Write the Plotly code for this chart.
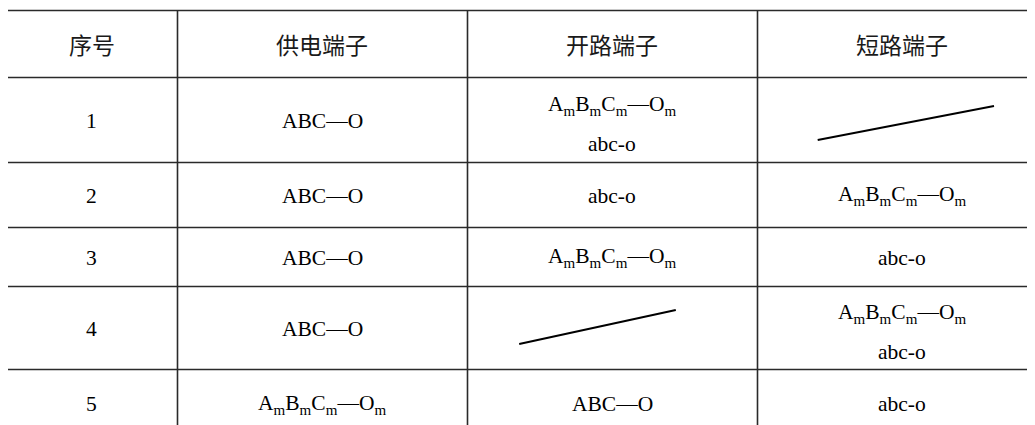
import plotly.graph_objects as go

# ---------------- data ----------------
headers = ["序号", "供电端子", "开路端子", "短路端子"]
AMO = "A<sub>m</sub>B<sub>m</sub>C<sub>m</sub>—O<sub>m</sub>"
col_index = ["1", "2", "3", "4", "5"]
col_supply = ["ABC—O", "ABC—O", "ABC—O", "ABC—O", AMO]
col_open = [[AMO, "abc-o"], "abc-o", AMO, None, "ABC—O"]
col_short = [None, AMO, "abc-o", [AMO, "abc-o"], "abc-o"]

# ---------------- layout constants ----------------
W, H = 1035, 425
OFF = 8                              # default page body margin
col_edges = [6, 177, 467, 757, 1046]
row_edges = [10, 77, 162, 227, 286, 369, 437]
line_offsets = [-14.5, 24]           # two-line cells: offsets from cell centre
# slash (empty cell) endpoints, as fractions of the cell box: (x0, y0, x1, y1), y from top
slash_frac = {(0, 3): (0.21, 0.74, 0.82, 0.34),
              (3, 2): (0.18, 0.70, 0.72, 0.29)}
LATIN = "Liberation Serif, Times New Roman, serif"
CJK = "Noto Sans CJK SC, sans-serif"
LINE_COLOR = "#2a2a2a"
LATIN_SIZE = 21.5
CJK_SIZE = 23

fig = go.Figure()
fig.add_trace(go.Scatter(x=[OFF, W], y=[OFF, H], mode="markers",
                         marker=dict(opacity=0), hoverinfo="skip", showlegend=False))

shapes = []
annotations = []


def px(v):
    return round(v) + 0.5


# horizontal borders (no bottom border visible)
for y in row_edges[:-1]:
    shapes.append(dict(type="line", xref="x", yref="y", x0=col_edges[0], x1=W + 5,
                       y0=px(y), y1=px(y), line=dict(color=LINE_COLOR, width=1.3)))
# vertical borders
for x in col_edges:
    shapes.append(dict(type="line", xref="x", yref="y", x0=px(x), x1=px(x),
                       y0=row_edges[0], y1=H + 5, line=dict(color=LINE_COLOR, width=1.6)))

# header
for j, h in enumerate(headers):
    cx = (col_edges[j] + col_edges[j + 1]) / 2
    cy = (row_edges[0] + row_edges[1]) / 2
    annotations.append(dict(x=cx, y=cy, xref="x", yref="y", text=h, showarrow=False,
                            xanchor="center", yanchor="middle",
                            font=dict(family=CJK, size=CJK_SIZE, color="#1a1a1a")))

columns = [col_index, col_supply, col_open, col_short]
for i in range(len(col_index)):
    top, bot = row_edges[i + 1], row_edges[i + 2]
    cy = (top + bot) / 2
    for j, col in enumerate(columns):
        left, right = col_edges[j], col_edges[j + 1]
        cx = (left + right) / 2
        val = col[i]
        if val is None:
            fx0, fy0, fx1, fy1 = slash_frac[(i, j)]
            shapes.append(dict(type="line", xref="x", yref="y",
                               x0=left + fx0 * (right - left), y0=top + fy0 * (bot - top),
                               x1=left + fx1 * (right - left), y1=top + fy1 * (bot - top),
                               line=dict(color="#000000", width=2)))
        elif isinstance(val, list):
            for k, t in enumerate(val):
                annotations.append(dict(x=cx, y=cy + line_offsets[k], xref="x", yref="y",
                                        text=t, showarrow=False, xanchor="center",
                                        yanchor="middle",
                                        font=dict(family=LATIN, size=LATIN_SIZE, color="#000000")))
        else:
            annotations.append(dict(x=cx, y=cy + 1, xref="x", yref="y", text=val,
                                    showarrow=False, xanchor="center", yanchor="middle",
                                    font=dict(family=LATIN, size=LATIN_SIZE, color="#000000")))

fig.update_layout(
    width=W - OFF, height=H - OFF,
    margin=dict(l=0, r=0, t=0, b=0),
    paper_bgcolor="white", plot_bgcolor="white",
    xaxis=dict(range=[OFF, W], visible=False, fixedrange=True),
    yaxis=dict(range=[H, OFF], visible=False, fixedrange=True),
    shapes=shapes, annotations=annotations, showlegend=False,
)

fig.write_html("out.html", config={"displayModeBar": False})
